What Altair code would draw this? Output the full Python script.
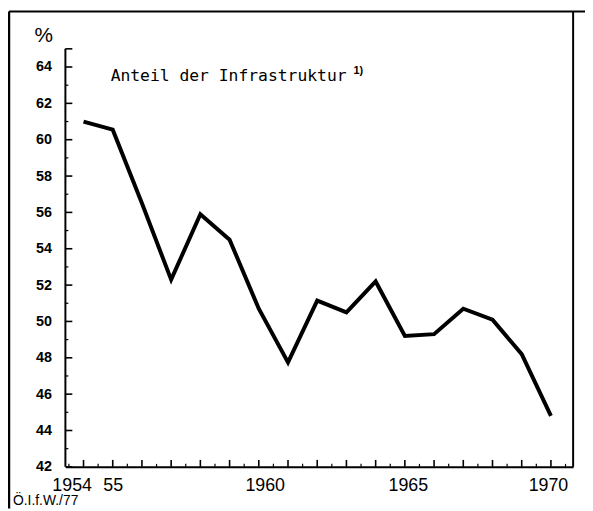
import altair as alt
import pandas as pd

# --- data ---
years = list(range(1954, 1971))
share = [61.0, 60.55, 56.5, 52.3, 55.9, 54.5, 50.7, 47.75, 51.15, 50.5,
         52.2, 49.2, 49.3, 50.7, 50.1, 48.2, 44.8]

y_label_values = [42, 44, 46, 48, 50, 52, 54, 56, 58, 60, 62, 64]
y_major_ticks = y_label_values + [65]
y_minor_ticks = [43, 45, 47, 49, 51, 53, 55, 57, 59, 61, 63]
x_major_ticks = years
x_minor_ticks = [y + 0.5 for y in range(1953, 1971)]
x_label_values = [1954, 1955, 1960, 1965, 1970]

title_text = "Anteil der Infrastruktur"
title_note = "1)"
unit_text = "%"
source_text = "Ö.I.f.W./77"

XDOM = [1953.38, 1970.76]
YDOM = [42, 67.05]
W, H = 513, 460

df = pd.DataFrame({"year": years, "share": share})
xs = alt.Scale(domain=XDOM, nice=False, zero=False)
ys = alt.Scale(domain=YDOM, nice=False, zero=False)

xaxis = alt.Axis(
    values=x_label_values, format="d",
    labelExpr="datum.value == 1955 ? '55' : datum.label",
    labelOffset={"condition": [
        {"test": "datum.value == 1954", "value": -12},
        {"test": "datum.value == 1960", "value": 6},
        {"test": "datum.value == 1965", "value": 3},
        {"test": "datum.value == 1970", "value": -3}], "value": 0},
    labelFont="Liberation Sans", labelFontSize=18, labelColor="black",
    labelPadding=10, ticks=False, tickSize=0, grid=False,
    domain=True, domainColor="black", domainWidth=2, title=None)
yaxis = alt.Axis(
    values=y_label_values, labelFont="Liberation Sans", labelFontSize=14.5,
    labelFontWeight="bold", labelColor="black", labelPadding=14,
    ticks=False, tickSize=0, grid=False, domain=False, title=None)

line = alt.Chart(df).mark_line(color="black", strokeWidth=4, strokeJoin="miter").encode(
    x=alt.X("year:Q", scale=xs, axis=xaxis),
    y=alt.Y("share:Q", scale=ys, axis=yaxis),
)

ymaj = alt.Chart(pd.DataFrame({"share": y_major_ticks})).mark_rule(color="black", strokeWidth=1.6).encode(
    y=alt.Y("share:Q", scale=ys, axis=yaxis), x=alt.value(0), x2=alt.value(7))
ymin = alt.Chart(pd.DataFrame({"share": y_minor_ticks})).mark_rule(color="black", strokeWidth=1.2).encode(
    y=alt.Y("share:Q", scale=ys, axis=yaxis), x=alt.value(0), x2=alt.value(3))
xmaj = alt.Chart(pd.DataFrame({"year": x_major_ticks})).mark_rule(color="black", strokeWidth=1.6).encode(
    x=alt.X("year:Q", scale=xs, axis=xaxis), y=alt.value(H), y2=alt.value(H - 7))
xmin = alt.Chart(pd.DataFrame({"year": x_minor_ticks})).mark_rule(color="black", strokeWidth=1.2).encode(
    x=alt.X("year:Q", scale=xs, axis=xaxis), y=alt.value(H), y2=alt.value(H - 3))

yaxis_line = alt.Chart(pd.DataFrame({"share": [42], "top": [65]})).mark_rule(color="black", strokeWidth=2).encode(
    x=alt.value(0), y=alt.Y("share:Q", scale=ys, axis=yaxis), y2="top:Q")

right_border = alt.Chart(pd.DataFrame({"k": [0]})).mark_rule(color="black", strokeWidth=2).encode(
    x=alt.value(W), y=alt.value(0), y2=alt.value(H))
top_border = alt.Chart(pd.DataFrame({"k": [0]})).mark_rule(color="black", strokeWidth=2).encode(
    x=alt.value(-57), x2=alt.value(W + 14), y=alt.value(0))
left_border = alt.Chart(pd.DataFrame({"k": [0]})).mark_rule(color="black", strokeWidth=2.5).encode(
    x=alt.value(-57), y=alt.value(0), y2=alt.value(H + 42))

title = alt.Chart(pd.DataFrame({"t": [title_text]})).mark_text(
    font="DejaVu Sans Mono", fontSize=16.5, align="left", baseline="alphabetic", color="black").encode(
    text="t:N", x=alt.value(45.7), y=alt.value(70))
note = alt.Chart(pd.DataFrame({"t": [title_note]})).mark_text(
    font="Liberation Sans", fontSize=11, fontWeight="bold", align="left", baseline="alphabetic", color="black").encode(
    text="t:N", x=alt.value(291), y=alt.value(63))
unit = alt.Chart(pd.DataFrame({"t": [unit_text]})).mark_text(
    font="Liberation Sans", fontSize=21, align="center", baseline="middle", color="black").encode(
    text="t:N", x=alt.value(-22), y=alt.value(25))
source = alt.Chart(pd.DataFrame({"t": [source_text]})).mark_text(
    font="Liberation Sans", fontSize=14, align="left", baseline="alphabetic", color="black").encode(
    text="t:N", x=alt.value(-53), y=alt.value(H + 39))

chart = alt.layer(
    line, left_border, top_border, right_border, yaxis_line, ymaj, ymin, xmaj, xmin,
    title, note, unit, source
).resolve_scale(x="shared", y="shared").properties(
    width=W, height=H,
    autosize=alt.AutoSizeParams(type="none"),
    padding={"left": 58, "top": 1, "right": 12, "bottom": 42},
    background="white",
).configure_view(stroke=None)

chart.save("out.html", embed_options={"renderer": "svg", "actions": False})
